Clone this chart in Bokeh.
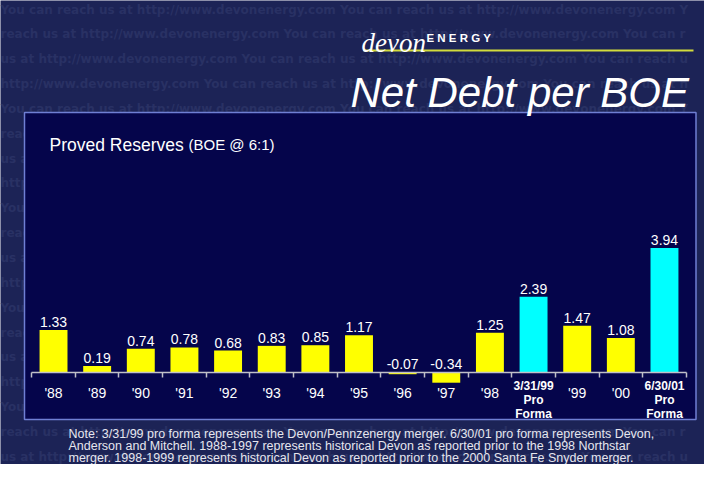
import numpy as np
from bokeh.plotting import figure
from bokeh.models import LinearAxis, FixedTicker, Label, Range1d
from bokeh.core.properties import value
from bokeh.embed import file_html
from bokeh.resources import INLINE

# ---- data ----
categories = ["'88", "'89", "'90", "'91", "'92", "'93", "'94", "'95", "'96", "'97", "'98",
              "3/31/99\nPro\nForma", "'99", "'00", "6/30/01\nPro\nForma"]
net_debt_per_boe = [1.33, 0.19, 0.74, 0.78, 0.68, 0.83, 0.85, 1.17, -0.07, -0.34, 1.25,
                    2.39, 1.47, 1.08, 3.94]
value_labels = ["1.33", "0.19", "0.74", "0.78", "0.68", "0.83", "0.85", "1.17", "-0.07", "-0.34",
                "1.25", "2.39", "1.47", "1.08", "3.94"]
note_lines = [
    "Note: 3/31/99 pro forma represents the Devon/Pennzenergy merger.  6/30/01 pro forma represents Devon,",
    "Anderson and Mitchell.  1988-1997 represents historical Devon as reported prior to the 1998 Northstar",
    "merger.  1998-1999  represents historical Devon as reported prior to the 2000 Santa Fe Snyder merger.",
]
watermark_phrase = "You can reach us at http://www.devonenergy.com "

# ---- styles ----
BG = "#1c2356"
WM = "#293164"
PANEL = "#05054b"
BORDER = "#6f7fd4"
AX = "#c0c0c8"
YELLOW = "#ffff00"
CYAN = "#00ffff"
RULE = "#d2dc3c"

W, H = 704, 464
PX_PER_X = 43.64
PX_PER_Y = 31.5
X0 = -0.5 - 31.2 / PX_PER_X
X1 = X0 + W / PX_PER_X
Y1 = 371.5 / PX_PER_Y
Y0 = Y1 - H / PX_PER_Y


def X(px):  # picture pixel -> data x (decorations only)
    return X0 + px / PX_PER_X


def Y(py):  # picture pixel -> data y (decorations only)
    return Y1 - py / PX_PER_Y


p = figure(width=W, height=H, x_range=Range1d(X0, X1), y_range=Range1d(Y0, Y1),
           x_axis_type=None, y_axis_type=None, toolbar_location=None,
           output_backend="svg", min_border=0,
           background_fill_color=BG, border_fill_color=BG, outline_line_color=None)

# watermark
wm_rows, wm_y = [], []
starts = ["You", "reach", "us at", "http"]
long_txt = watermark_phrase * 4
for n in range(19):
    off = long_txt.index(starts[n % 4])
    wm_rows.append(long_txt[off:off + 95].rstrip())
    wm_y.append(Y(9 + 24.85 * n))
p.text(x=[X(0)] * len(wm_rows), y=wm_y, text=wm_rows, text_color=WM,
       text_font=value("DejaVu Sans"), text_font_size="12px", text_font_style="bold",
       text_baseline="middle", text_align="left")

# panel
p.quad(left=X(24), right=X(695.5), top=Y(112), bottom=Y(419),
       fill_color=PANEL, line_color=BORDER, line_width=1.5)

# logo rule
p.segment(x0=X(363), x1=X(693), y0=Y(50), y1=Y(50), line_color=RULE, line_width=2)

# bars
xs = list(range(len(categories)))
colors = [CYAN if "Pro" in c else YELLOW for c in categories]
p.vbar(x=xs, top=net_debt_per_boe, bottom=0, width=0.64, fill_color=colors, line_color=None)

# value labels
p.text(x=xs, y=list(np.maximum(np.array(net_debt_per_boe), 0)), text=value_labels,
       y_offset=-8, text_align="center", text_baseline="alphabetic",
       text_font=value("Liberation Sans"), text_font_size="14px", text_color="white")

# axis with ticks between categories
bnds = [i - 0.5 for i in range(len(categories) + 1)]
tick_axis = LinearAxis(ticker=FixedTicker(ticks=bnds), fixed_location=0,
                       bounds=(-0.5, len(categories) - 0.5),
                       axis_line_color=AX, axis_line_width=1.5,
                       major_tick_line_color=AX, major_tick_line_width=1.5,
                       major_tick_in=0, major_tick_out=5, minor_tick_line_color=None,
                       major_label_overrides={b: "" for b in bnds})
p.add_layout(tick_axis, "below")

single = [i for i, c in enumerate(categories) if "\n" not in c]
multi = [i for i, c in enumerate(categories) if "\n" in c]
ax_single = LinearAxis(ticker=FixedTicker(ticks=single), fixed_location=0,
                       axis_line_color=None, major_tick_line_color=None,
                       minor_tick_line_color=None, major_tick_in=0, major_tick_out=0,
                       major_label_standoff=13,
                       major_label_overrides={i: categories[i] for i in single},
                       major_label_text_font="Liberation Sans",
                       major_label_text_font_size="14px",
                       major_label_text_color="white")
p.add_layout(ax_single, "below")
ax_multi = LinearAxis(ticker=FixedTicker(ticks=multi), fixed_location=0,
                      axis_line_color=None, major_tick_line_color=None,
                      minor_tick_line_color=None, major_tick_in=0, major_tick_out=0,
                      major_label_standoff=7,
                      major_label_overrides={i: categories[i] for i in multi},
                      major_label_text_font="Liberation Sans",
                      major_label_text_font_style="bold",
                      major_label_text_font_size="12px",
                      major_label_text_line_height=1.0,
                      major_label_text_color="white")
p.add_layout(ax_multi, "below")


def lab(text, px, py, size, style="normal", font="Liberation Sans", color="white"):
    p.add_layout(Label(x=px, y=H - py, x_units="screen", y_units="screen",
                       text=text, text_font=font, text_font_size=size,
                       text_font_style=style, text_color=color,
                       text_baseline="alphabetic", text_align="left"))


lab("devon", 361, 42, "27px", "italic", "Liberation Serif")
lab("E  N  E  R  G  Y", 426, 37.5, "11.5px", "bold")
lab("Net Debt per BOE", 350, 91.7, "42px", "italic")
lab("Proved Reserves", 49, 144, "17.5px")
lab("(BOE @ 6:1)", 188, 144, "15px")
for k, t in enumerate(note_lines):
    lab(t, 68, 433 + 12.3 * k, "12.5px", color="#e6e6ee")

open("out.html", "w").write(file_html(p, INLINE))
